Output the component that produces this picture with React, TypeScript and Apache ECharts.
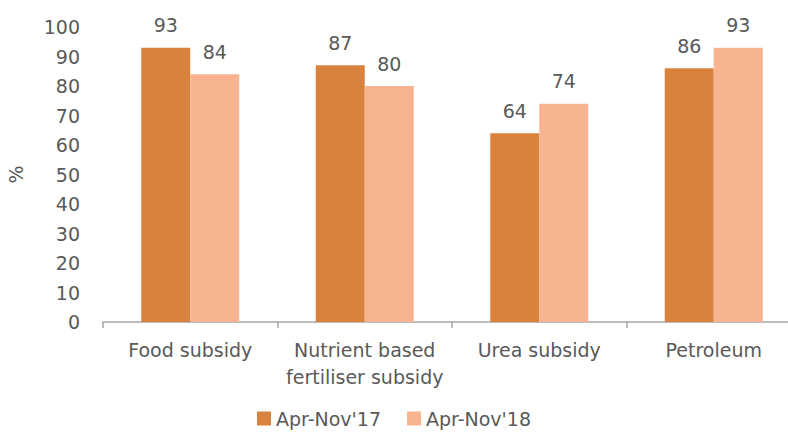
import React, { useEffect, useRef } from "react";
import * as echarts from "echarts";

const categories = ["Food subsidy", "Nutrient based\nfertiliser subsidy", "Urea subsidy", "Petroleum"];
const series17 = [93, 87, 64, 86];
const series18 = [84, 80, 74, 93];
const seriesNames = ["Apr-Nov'17", "Apr-Nov'18"];

export default function App() {
  const ref = useRef<HTMLDivElement>(null);
  useEffect(() => {
    if (!ref.current) return;
    const chart = echarts.init(ref.current, null, { renderer: "svg" });
    const font = "'DejaVu Sans', sans-serif";
    const fs = 19;
    const textColor = "#595959";
    const labelStyle = {
      show: true,
      position: "top",
      distance: 13,
      color: textColor,
      fontSize: fs,
      fontFamily: font,
    };
    chart.setOption({
      animation: false,
      backgroundColor: "#ffffff",
      textStyle: { fontFamily: font },
      grid: { left: 103, top: 27, width: 698, height: 295, outerBoundsMode: "none", containLabel: false },
      legend: {
        data: seriesNames,
        left: "center",
        top: 404,
        itemWidth: 14,
        itemHeight: 14,
        itemGap: 26,
        icon: "rect",
        textStyle: { color: textColor, fontSize: fs, fontFamily: font },
      },
      xAxis: {
        type: "category",
        data: categories,
        axisLine: { lineStyle: { color: "#A6A6A6", width: 1.5 } },
        axisTick: { show: true, length: 6, lineStyle: { color: "#A6A6A6", width: 1.5 } },
        axisLabel: {
          color: textColor,
          fontSize: fs,
          fontFamily: font,
          margin: 14,
          lineHeight: 27,
          interval: 0,
        },
      },
      yAxis: {
        type: "value",
        min: 0,
        max: 100,
        interval: 10,
        name: "%",
        nameLocation: "middle",
        nameGap: 78,
        nameRotate: 90,
        nameTextStyle: { color: textColor, fontSize: fs, fontFamily: font },
        axisLine: { show: false },
        axisTick: { show: false },
        splitLine: { show: false },
        axisLabel: { color: textColor, fontSize: fs, fontFamily: font, margin: 23 },
      },
      series: [
        {
          name: seriesNames[0],
          type: "bar",
          data: series17,
          barWidth: 49,
          barGap: "0%",
          itemStyle: { color: "#D8823D" },
          label: labelStyle,
        },
        {
          name: seriesNames[1],
          type: "bar",
          data: series18,
          barWidth: 49,
          barGap: "0%",
          itemStyle: { color: "#F8B491" },
          label: labelStyle,
        },
      ],
    });
    return () => chart.dispose();
  }, []);
  return (
    <div
      ref={ref}
      style={{ position: "fixed", left: 0, top: 0, width: 788, height: 432, background: "#fff" }}
    />
  );
}
